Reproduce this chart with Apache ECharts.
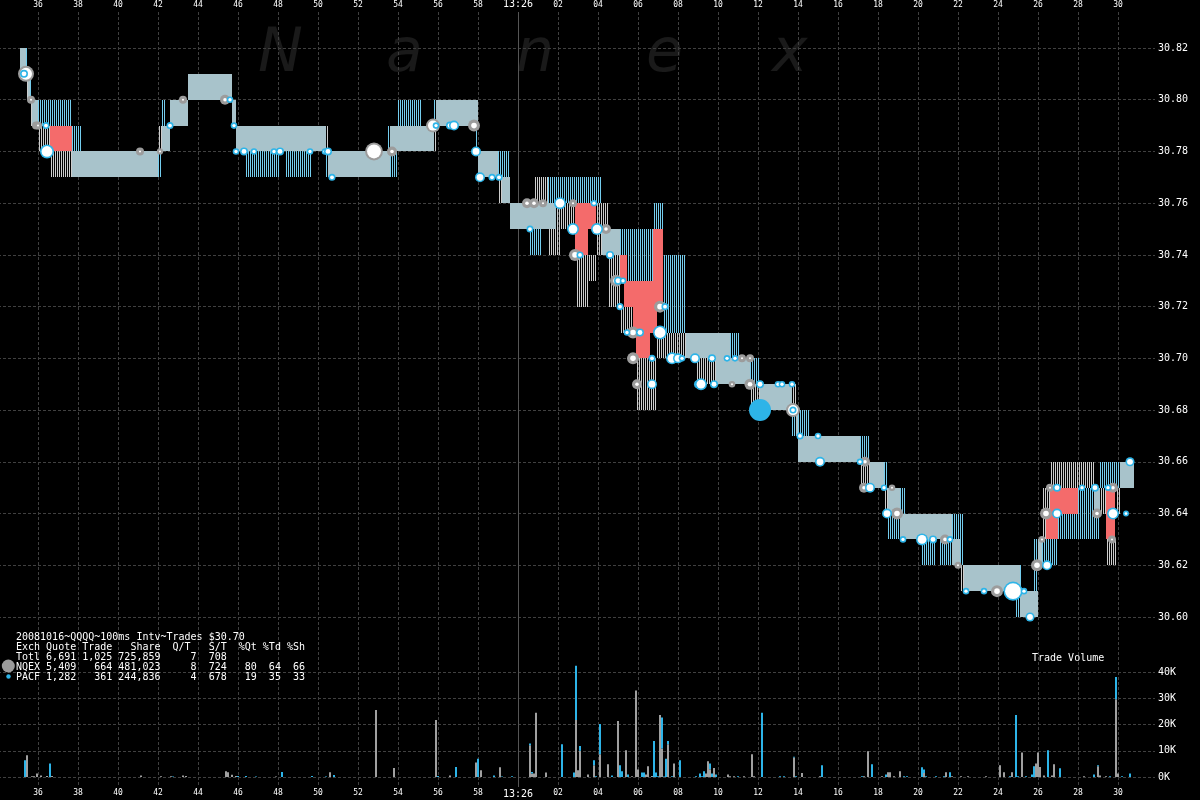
<!DOCTYPE html>
<html><head><meta charset="utf-8">
<script src="https://cdn.jsdelivr.net/npm/echarts@6/dist/echarts.min.js"></script>
<style>html,body{margin:0;padding:0;background:#000}#c{width:1200px;height:800px}</style>
</head><body><div id="c"></div>
<script>
// time unit: seconds after 13:25:00
// quote segments per exchange: [tStart, tEnd, bid, ask]
const nqQuotes = [
 [35.1,35.4,30.81,30.82],[35.4,35.6,30.80,30.81],[35.6,36.0,30.79,30.80],[36.0,36.6,30.78,30.79],
 [36.6,42.0,30.77,30.78],[42.0,42.6,30.78,30.79],[42.6,43.5,30.79,30.80],[43.5,45.7,30.80,30.81],
 [45.7,45.9,30.79,30.80],[45.9,50.5,30.78,30.79],[50.5,53.6,30.77,30.78],[53.6,55.9,30.78,30.79],
 [55.9,58.0,30.79,30.80],[58.0,59.0,30.77,30.78],[59.0,59.55,30.76,30.77],[59.55,60.8,30.75,30.76],
 [60.8,61.5,30.75,30.77],[61.5,62.1,30.74,30.76],[62.1,62.85,30.75,30.76],[62.85,63.45,30.72,30.74],
 [63.45,63.9,30.73,30.74],[63.9,64.5,30.74,30.76],[64.5,65.1,30.72,30.75],[65.1,65.9,30.71,30.72],
 [65.9,66.9,30.68,30.70],[66.9,68.9,30.70,30.71],[68.9,70.6,30.69,30.71],[70.6,71.6,30.69,30.70],
 [71.6,73.85,30.68,30.69],[73.85,74.0,30.67,30.68],[74.0,77.1,30.66,30.67],[77.1,78.3,30.65,30.66],
 [78.3,79.1,30.64,30.65],[79.1,81.7,30.63,30.64],[81.7,82.1,30.62,30.63],[82.1,85.1,30.61,30.62],
 [85.1,85.95,30.60,30.61],[85.95,86.2,30.62,30.63],[86.2,86.6,30.63,30.65],[86.6,88.75,30.65,30.66],
 [88.75,89.4,30.64,30.65],[89.4,89.85,30.62,30.63],[89.85,90.1,30.64,30.65],[90.1,90.75,30.65,30.66]
];
const paQuotes = [
 [35.1,35.5,30.81,30.82],[35.5,35.7,30.80,30.81],[35.7,37.7,30.79,30.80],[37.7,38.2,30.77,30.79],
 [38.2,42.2,30.77,30.78],[42.2,42.4,30.78,30.80],[42.4,42.6,30.78,30.79],[42.6,43.5,30.79,30.80],
 [43.5,45.7,30.80,30.81],[45.7,45.9,30.79,30.80],[45.9,46.35,30.78,30.79],[46.35,48.1,30.77,30.79],
 [48.1,48.35,30.78,30.79],[48.35,49.7,30.77,30.79],[49.7,50.35,30.78,30.79],[50.35,53.5,30.77,30.78],
 [53.5,54.0,30.77,30.79],[54.0,55.2,30.78,30.80],[55.2,55.8,30.78,30.79],[55.8,57.9,30.79,30.80],
 [57.9,58.0,30.78,30.80],[58.0,59.2,30.77,30.78],[59.2,59.6,30.76,30.78],[59.6,60.6,30.75,30.76],
 [60.6,61.2,30.74,30.76],[61.2,61.5,30.75,30.76],[61.5,61.85,30.75,30.77],[61.85,64.2,30.76,30.77],
 [64.2,65.45,30.74,30.75],[65.45,66.75,30.73,30.75],[66.75,67.3,30.75,30.76],[67.3,68.35,30.71,30.74],
 [68.35,69.9,30.70,30.71],[69.9,71.1,30.69,30.71],[71.1,72.1,30.69,30.70],[72.1,73.7,30.68,30.69],
 [73.7,74.0,30.67,30.68],[74.0,74.6,30.66,30.68],[74.6,77.6,30.66,30.67],[77.6,78.5,30.65,30.66],
 [78.5,79.4,30.63,30.65],[79.4,80.2,30.63,30.64],[80.2,80.85,30.62,30.64],[80.85,81.1,30.63,30.64],
 [81.1,82.25,30.62,30.64],[82.25,84.85,30.61,30.62],[84.85,85.2,30.60,30.62],[85.2,85.75,30.60,30.61],
 [85.75,85.95,30.60,30.63],[85.95,87.0,30.62,30.63],[87.0,88.0,30.63,30.64],[88.0,89.1,30.63,30.65],
 [89.1,90.75,30.65,30.66]
];
// crossed market zones: [tStart, tEnd, low, high]
const crossedZones = [
 [36.6,37.7,30.78,30.79],[62.85,63.9,30.75,30.76],[62.85,63.5,30.74,30.75],[65.1,65.45,30.73,30.74],
 [65.3,67.25,30.72,30.73],[66.75,67.25,30.73,30.75],[65.75,66.95,30.71,30.72],[65.9,66.6,30.70,30.71],
 [86.4,87.0,30.63,30.64],[86.6,88.0,30.64,30.65],[89.4,89.85,30.63,30.65]
];
// trades: [time, price, shares]
const nqTrades = [
 [35.4,30.81,14600],[35.65,30.80,1100],[35.9,30.79,1100],[36.0,30.79,1100],[36.5,30.78,1100],
 [41.1,30.78,1100],[42.1,30.78,200],[43.25,30.80,1100],[45.35,30.80,3000],[52.8,30.78,20000],
 [53.7,30.78,3000],[55.75,30.79,9800],[57.8,30.79,5900],[60.45,30.76,3000],[60.8,30.76,3000],
 [61.25,30.76,1100],[62.75,30.76,1100],[62.85,30.74,5900],[64.4,30.75,3000],[64.9,30.73,5900],
 [67.1,30.72,5900],[65.75,30.71,5900],[65.75,30.70,5900],[65.95,30.69,3000],[71.2,30.70,1100],
 [71.6,30.70,1100],[70.7,30.69,300],[71.6,30.69,4400],[73.75,30.68,9800],[77.35,30.66,3000],
 [77.3,30.65,3000],[78.7,30.65,300],[78.95,30.64,5900],[81.35,30.63,3000],[82.0,30.62,500],
 [83.95,30.61,5900],[85.1,30.61,300],[85.95,30.62,5900],[86.2,30.63,300],[86.4,30.64,5900],
 [86.6,30.65,1100],[88.95,30.64,3000],[89.75,30.65,3000],[89.7,30.63,1100]
];
const paTrades = [
 [35.3,30.81,1100],[36.4,30.79,500],[36.45,30.78,9800],[42.6,30.79,500],[45.6,30.80,300],
 [45.8,30.79,300],[45.9,30.78,300],[46.3,30.78,1100],[46.8,30.78,300],[47.8,30.78,300],
 [48.1,30.78,1100],[49.6,30.78,300],[50.35,30.78,300],[50.5,30.78,1100],[50.7,30.77,500],
 [55.9,30.79,300],[56.6,30.79,1100],[56.8,30.79,3000],[57.9,30.78,3000],[58.1,30.77,3000],
 [58.7,30.77,500],[59.05,30.77,500],[60.6,30.75,500],[62.1,30.76,5900],[63.8,30.76,300],
 [62.75,30.75,5900],[63.95,30.75,5900],[63.1,30.74,500],[64.6,30.74,1100],[65.0,30.73,1100],
 [65.25,30.73,300],[65.1,30.72,500],[67.35,30.72,500],[66.1,30.71,1100],[65.45,30.71,300],
 [67.1,30.71,9800],[66.7,30.70,500],[67.7,30.70,5900],[68.0,30.70,3000],[66.7,30.69,3000],
 [69.0,30.69,1100],[68.2,30.70,300],[68.85,30.70,3000],[69.7,30.70,1100],[70.45,30.70,300],
 [70.85,30.70,300],[69.15,30.69,5900],[69.8,30.69,1100],[72.1,30.69,1100],[73.0,30.69,300],
 [73.2,30.69,300],[73.7,30.69,300],[72.1,30.68,35000],[73.75,30.68,500],[74.1,30.67,500],
 [75.0,30.67,300],[75.1,30.66,3000],[77.1,30.66,300],[77.6,30.65,3000],[78.3,30.65,300],
 [78.45,30.64,3000],[79.25,30.63,300],[80.2,30.63,5900],[80.75,30.63,1100],[81.6,30.63,300],
 [82.4,30.61,300],[83.3,30.61,300],[84.75,30.61,24000],[85.3,30.61,300],[85.6,30.60,2000],
 [86.45,30.62,3000],[86.95,30.64,3000],[86.95,30.65,1100],[88.2,30.65,300],[88.85,30.65,1100],
 [89.75,30.64,5900],[90.4,30.64,100],[90.6,30.66,2000],[89.5,30.65,300]
];
// trade volume per 100ms interval
const volTimes = [35.3,35.4,35.65,35.75,35.9,36.1,36.4,36.55,36.65,41.1,42.1,42.6,42.7,43.2,43.35,45.35,45.45,45.65,45.85,45.95,46.35,46.85,47.85,48.15,49.65,50.35,50.55,50.75,52.85,53.75,55.85,55.95,56.55,56.85,57.85,57.95,58.1,58.75,59.05,59.15,59.65,60.55,60.65,60.75,60.85,61.35,62.15,62.75,62.85,62.95,63.05,63.45,63.75,63.85,64.05,64.45,64.65,64.95,65.05,65.15,65.35,65.45,65.65,65.85,65.95,66.15,66.25,66.35,66.45,66.65,66.75,66.85,66.95,67.05,67.15,67.25,67.35,67.45,67.65,67.75,68.05,68.85,69.05,69.15,69.25,69.35,69.45,69.55,69.65,69.75,69.85,70.45,70.55,70.75,70.95,71.25,71.65,71.75,72.15,73.05,73.25,73.75,73.85,74.15,75.05,75.15,77.15,77.25,77.45,77.65,78.15,78.35,78.45,78.55,78.75,79.05,79.25,79.4,80.15,80.25,80.35,80.85,81.25,81.35,81.55,81.65,82.1,82.45,83.35,84.05,84.25,84.55,84.65,84.85,84.95,85.15,85.35,85.65,85.75,85.85,85.95,86.05,86.25,86.45,86.65,86.75,87.05,88.25,88.75,88.95,89.05,89.35,89.55,89.85,89.95,90.15,90.55];
const volNQ = [0,8300,300,300,1300,600,400,0,400,600,300,300,0,600,400,2200,1800,900,400,0,0,0,200,0,0,0,1800,0,25500,3400,21700,0,600,0,5500,0,2600,0,3700,0,0,12100,1300,1300,24500,1700,0,0,21700,2600,10000,1000,4500,0,8700,4900,0,21300,0,0,10200,0,300,33000,2900,0,0,1000,4100,400,0,0,0,23600,10900,0,0,12500,0,5100,0,0,0,0,0,1300,6000,3000,0,3400,0,1000,300,300,0,300,8700,300,0,0,0,7400,0,1500,300,0,0,300,9800,0,300,0,1800,1800,300,2200,0,0,0,1500,0,0,0,1800,0,300,300,300,300,4500,1800,0,1800,0,0,9300,0,0,0,5100,9300,3800,600,0,600,4900,0,300,0,4100,600,300,0,29600,1300,0,0];
const volPA = [6400,0,0,0,0,0,0,5100,0,0,0,0,200,0,0,0,0,0,0,400,400,200,0,1900,400,200,0,800,0,0,0,400,0,3800,0,7000,0,600,0,200,300,700,600,0,0,0,12500,1700,20700,0,1800,0,1900,300,11500,0,600,0,4500,2200,0,1000,0,0,0,1700,1700,0,0,0,13700,1700,300,0,11800,200,7000,1200,300,0,6400,300,1300,300,2200,0,0,2100,1300,0,1000,0,0,0,300,0,0,0,24500,300,300,300,300,0,0,4500,300,0,0,4900,0,1000,0,0,0,0,300,300,3700,1400,300,300,300,0,1800,0,0,0,0,0,0,300,0,23600,300,0,300,1000,4100,0,0,0,0,10200,0,0,3300,0,1000,400,0,0,300,8500,0,300,1300];

const T_MIN = 34, T_MAX = 91.85;
const priceMin = 30.60, priceMax = 30.82, priceStep = 0.02;
const volMax = 40000, volStep = 10000;

const GRAY = '#cccccc', BLUE = '#74cdee', BOTH = '#a8c3cb', RED = '#f46b6b';
const TGRAY = '#9c9c9c', TBLUE = '#2db4e8';
const MONO = '"DejaVu Sans Mono", monospace';
const gridLine = {show:true, lineStyle:{color:'#404040', type:[3,2], width:1}};

// per-100ms lookup of each exchange's quote
function slotMap(list){
  const m = {};
  list.forEach(s=>{ for (let k = Math.round(s[0]*10); k < Math.round(s[1]*10); k++) m[k] = [s[2], s[3]]; });
  return m;
}
const nqMap = slotMap(nqQuotes), paMap = slotMap(paQuotes);
function minus(a, b){
  if (!b || b[1] <= a[0] || b[0] >= a[1]) return [a];
  const out = [];
  if (b[0] > a[0]) out.push([a[0], b[0]]);
  if (b[1] < a[1]) out.push([b[1], a[1]]);
  return out;
}
function quoteRender(own, other, offset, color, drawOverlap){
  return function(params, api){
    const t0 = api.value(0), t1 = api.value(1);
    const k0 = Math.round(t0*10), k1 = Math.round(t1*10);
    const ch = [];
    const py = p => Math.round(api.coord([t0, p])[1]);
    for (let k = k0; k < k1; k++){
      const x = Math.round(api.coord([k/10, 0])[0]);
      const a = own[k]; if (!a) continue;
      const b = other[k];
      minus(a, b).forEach(r=>{
        const yT = py(r[1]), yB = py(r[0]);
        ch.push({type:'rect', shape:{x:x+offset, y:yT, width:1, height:yB-yT}, style:{fill:color}});
      });
      if (drawOverlap && b){
        const lo = Math.max(a[0], b[0]), hi = Math.min(a[1], b[1]);
        if (hi > lo){
          const yT = py(hi), yB = py(lo);
          ch.push({type:'rect', shape:{x:x, y:yT, width:2, height:yB-yT}, style:{fill:BOTH}});
        }
      }
    }
    return {type:'group', children:ch};
  };
}
function redRender(params, api){
  const p0 = api.coord([api.value(0), api.value(3)]);
  const p1 = api.coord([api.value(1), api.value(2)]);
  const x0 = Math.round(p0[0]), y0 = Math.round(p0[1]);
  return {type:'rect', shape:{x:x0, y:y0, width:Math.round(p1[0])-x0, height:Math.round(p1[1])-y0}, style:{fill:RED}};
}
function tradeRender(color, isNQ){
  return function(params, api){
    const c = api.coord([api.value(0), api.value(1)]);
    const s = api.value(2);
    const r = 2.5 + Math.sqrt(s)/22;
    let ri;
    if (isNQ) ri = r >= 6 ? r - 2 : Math.max(r - 3.2, 1);
    else ri = s >= 30000 ? 0 : Math.max(r - 1.6, 1.2);
    const ch = [{type:'circle', shape:{cx:c[0], cy:c[1], r:r}, style:{fill:color}}];
    if (ri > 0) ch.push({type:'circle', shape:{cx:c[0], cy:c[1], r:ri}, style:{fill:'#fff'}});
    return {type:'group', children:ch};
  };
}
function volRender(params, api){
  const t = api.value(0), nq = api.value(1), pa = api.value(2);
  const base = api.coord([t, 0]);
  const x = Math.round(base[0]);
  const y0 = base[1];
  const yN = api.coord([t, nq])[1];
  const yT = api.coord([t, nq+pa])[1];
  const ch = [];
  if (nq > 0) ch.push({type:'rect', shape:{x:x, y:yN, width:2, height:y0-yN}, style:{fill:'#a0a0a0'}});
  if (pa > 0) ch.push({type:'rect', shape:{x:x, y:yT, width:2, height:yN-yT}, style:{fill:TBLUE}});
  return {type:'group', children:ch};
}
function timeLabel(v){
  if (Math.abs(v - Math.round(v)) > 1e-6 || v <= T_MIN) return '';
  v = Math.round(v);
  if (v === 60) return '{b|13:26}';
  const s = v > 60 ? v - 60 : v;
  return (s < 10 ? '0' : '') + s;
}
const volData = volTimes.map((t,i)=>[t, volNQ[i], volPA[i]]);

const legendLines = [
 '20081016~QQQQ~100ms Intv~Trades $30.70',
 'Exch Quote Trade   Share  Q/T   S/T  %Qt %Td %Sh',
 'Totl 6,691 1,025 725,859     7  708',
 'NQEX 5,409   664 481,023     8  724   80  64  66',
 'PACF 1,282   361 244,836     4  678   19  35  33'
];
const graphics = [];
const wm = [['N',258],['a',386],['n',516],['e',646],['x',772]];
wm.forEach(w=>graphics.push({type:'text', x:w[1], y:55, z:-10, silent:true, style:{text:w[0], fill:'#1a1a1a', font:'italic 60px "DejaVu Sans"', verticalAlign:'middle', textVerticalAlign:'middle'}}));
legendLines.forEach((l,i)=>graphics.push({type:'text', x:16, y:637+i*10, z:10, style:{text:l, fill:'#fff', font:'10px '+MONO, verticalAlign:'middle', textVerticalAlign:'middle'}}));
graphics.push({type:'circle', shape:{cx:8.3, cy:666, r:6.5}, z:10, style:{fill:TGRAY}});
graphics.push({type:'circle', shape:{cx:8.5, cy:676.5, r:2.2}, z:10, style:{fill:TBLUE}});
graphics.push({type:'text', x:1032, y:658, z:10, style:{text:'Trade Volume', fill:'#fff', font:'10px '+MONO, verticalAlign:'middle', textVerticalAlign:'middle'}});

const chart = echarts.init(document.getElementById('c'), null, {renderer:'canvas'});
chart.setOption({
  backgroundColor:'#000',
  animation:false,
  grid:[
    {left:-2, right:45, top:12, bottom:15, containLabel:false, outerBoundsMode:'none'},
    {left:-2, right:45, top:48, bottom:183, containLabel:false, outerBoundsMode:'none'},
    {left:-2, right:45, top:672, bottom:23, containLabel:false, outerBoundsMode:'none'}
  ],
  xAxis:[
    {gridIndex:0, type:'value', position:'top', min:T_MIN, max:T_MAX, interval:2,
     axisLine:{show:false}, axisTick:{show:false},
     axisLabel:{color:'#fff', fontSize:8, fontFamily:MONO, margin:3, formatter:timeLabel,
       rich:{b:{fontSize:10, fontFamily:MONO, color:'#fff'}}},
     splitLine:Object.assign({showMinLine:false, showMaxLine:false}, gridLine)},
    {gridIndex:0, type:'value', position:'bottom', min:T_MIN, max:T_MAX, interval:2,
     axisLine:{show:false}, axisTick:{show:false},
     axisLabel:{color:'#fff', fontSize:8, fontFamily:MONO, margin:4, formatter:timeLabel,
       rich:{b:{fontSize:10, fontFamily:MONO, color:'#fff'}}},
     splitLine:{show:false}},
    {gridIndex:1, type:'value', min:T_MIN, max:T_MAX, show:false},
    {gridIndex:2, type:'value', min:T_MIN, max:T_MAX, show:false}
  ],
  yAxis:[
    {gridIndex:0, type:'value', min:0, max:1, show:false},
    {gridIndex:1, type:'value', position:'right', min:priceMin, max:priceMax, interval:priceStep,
     axisLine:{show:false}, axisTick:{show:false},
     axisLabel:{color:'#fff', fontSize:10, fontFamily:MONO, margin:3, formatter:v=>v.toFixed(2)},
     splitLine:gridLine},
    {gridIndex:2, type:'value', position:'right', min:0, max:volMax, interval:volStep,
     axisLine:{show:false}, axisTick:{show:false},
     axisLabel:{color:'#fff', fontSize:10, fontFamily:MONO, margin:3, formatter:v=>Math.round(v/1000)+'K'},
     splitLine:gridLine}
  ],
  graphic:graphics,
  series:[
    {type:'custom', xAxisIndex:0, yAxisIndex:0, silent:true, clip:false, data:[[60]],
     renderItem:function(params, api){
       const x = Math.round(api.coord([api.value(0), 0])[0]) + 0.5;
       const cs = params.coordSys;
       return {type:'line', shape:{x1:x, y1:cs.y, x2:x, y2:cs.y+cs.height+2}, style:{stroke:'#555', lineWidth:1}};
     }},
    {type:'custom', xAxisIndex:2, yAxisIndex:1, silent:true, clip:false, data:nqQuotes, renderItem:quoteRender(nqMap, paMap, 1, GRAY, true)},
    {type:'custom', xAxisIndex:2, yAxisIndex:1, silent:true, clip:false, data:paQuotes, renderItem:quoteRender(paMap, nqMap, 0, BLUE, false)},
    {type:'custom', xAxisIndex:2, yAxisIndex:1, silent:true, clip:false, data:crossedZones, renderItem:redRender},
    {type:'custom', xAxisIndex:2, yAxisIndex:1, silent:true, clip:false, data:nqTrades, renderItem:tradeRender(TGRAY, true)},
    {type:'custom', xAxisIndex:2, yAxisIndex:1, silent:true, clip:false, data:paTrades, renderItem:tradeRender(TBLUE, false)},
    {type:'custom', xAxisIndex:3, yAxisIndex:2, silent:true, clip:false, data:volData, renderItem:volRender}
  ]
});
</script></body></html>
